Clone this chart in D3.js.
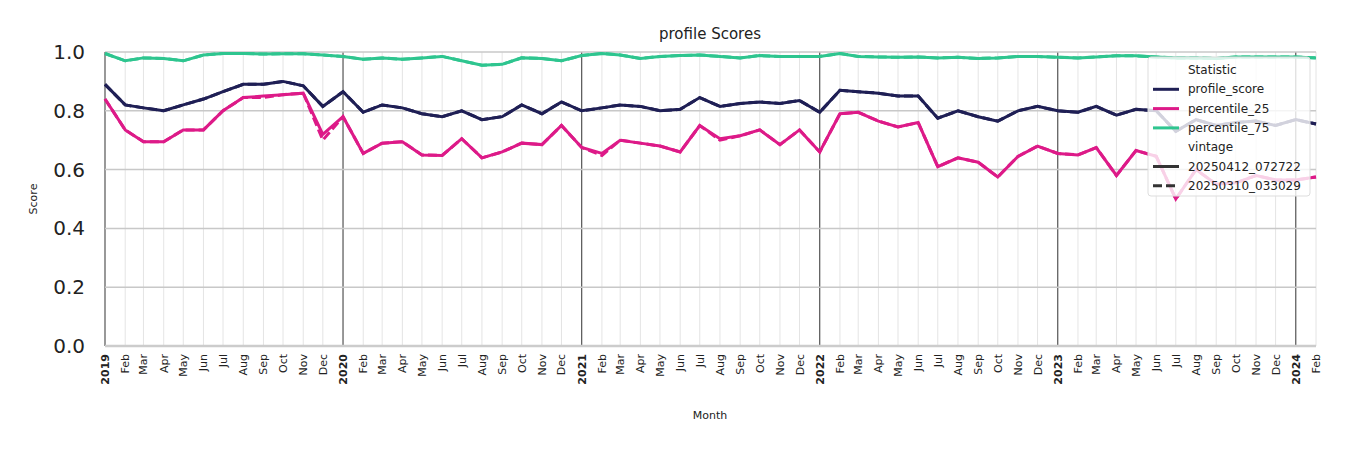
<!DOCTYPE html>
<html><head><meta charset="utf-8">
<script src="https://cdn.jsdelivr.net/npm/d3@7"></script>
<style>body{margin:0;background:#fff}text{font-family:"DejaVu Sans",sans-serif}</style>
</head><body><svg id="c" width="1350" height="450"></svg>
<script>
const startMonth = "2019-01", nMonths = 62;
const monthNames = ["Jan","Feb","Mar","Apr","May","Jun","Jul","Aug","Sep","Oct","Nov","Dec"];
const profileScore = [.89,.82,.81,.80,.82,.84,.865,.89,.89,.90,.885,.815, .865,.795,.82,.81,.79,.78,.80,.77,.78,.82,.79,.83, .80,.81,.82,.815,.80,.805,.845,.815,.825,.83,.825,.835, .795,.87,.865,.86,.85,.85,.775,.80,.78,.765,.80,.815, .80,.795,.815,.785,.805,.80,.73,.77,.75,.76,.765,.75, .77,.755];
const percentile25 = [.84,.735,.695,.695,.735,.735,.80,.845,.85,.855,.86,.72, .78,.655,.69,.695,.65,.648,.705,.64,.66,.69,.685,.75, .675,.655,.70,.69,.68,.66,.75,.705,.715,.735,.685,.735, .66,.79,.795,.765,.745,.76,.61,.64,.625,.575,.645,.68, .655,.65,.675,.58,.665,.645,.50,.60,.55,.555,.58,.565, .565,.575];
const percentile75 = [.995,.97,.98,.978,.97,.99,.995,.995,.993,.994,.994,.99, .985,.975,.98,.975,.98,.985,.97,.955,.958,.98,.978,.97, .988,.995,.99,.978,.985,.988,.99,.985,.98,.988,.985,.985, .985,.995,.985,.983,.982,.983,.98,.982,.978,.98,.985,.985, .982,.98,.983,.987,.987,.983,.98,.98,.978,.983,.983,.983, .983,.98];
const oldProfileScore = profileScore.slice();
const oldPercentile25 = percentile25.map((v,i)=> i===11?.70 : i===8?.845 : i===25?.648 : i===31?.70 : v);
const oldPercentile75 = percentile75.slice();
const yTicks = [0,0.2,0.4,0.6,0.8,1.0];
const statNames = ["profile_score","percentile_25","percentile_75"];
const statColors = ["#1f1f55","#dd1a88","#2ec58f"];
const vintages = ["20250412_072722","20250310_033029"];

const svg = d3.select("#c");
const t0 = d3.timeParse("%Y-%m")(startMonth);
const dates = d3.range(nMonths).map(i=>d3.timeMonth.offset(t0,i)).slice(0,profileScore.length);
const x = d3.scaleTime().domain([dates[0], dates[dates.length-1]]).range([105,1316]);
const y = d3.scaleLinear().domain([0,1]).range([346,52]);
const g = svg.append("g");
// monthly grid
g.selectAll(".mg").data(dates).join("line").attr("x1",d=>x(d)).attr("x2",d=>x(d)).attr("y1",52).attr("y2",346)
 .attr("stroke",d=>d.getMonth()===0?"#444":"#ddd").attr("stroke-width",d=>d.getMonth()===0?1.1:0.8);
g.selectAll(".hg").data(yTicks.slice(1)).join("line").attr("x1",105).attr("x2",1316).attr("y1",d=>y(d)).attr("y2",d=>y(d)).attr("stroke","#c8c8c8").attr("stroke-width",1.5);
g.append("line").attr("x1",105).attr("x2",1316).attr("y1",346).attr("y2",346).attr("stroke","#ccc").attr("stroke-width",2.5);
// y ticks
g.selectAll(".yt").data(yTicks).join("text").attr("x",85).attr("y",d=>y(d)+7).attr("text-anchor","end").attr("font-size",20).attr("fill","#222").text(d=>d.toFixed(1));
// x ticks
g.selectAll(".xt").data(dates).join("text")
 .attr("transform",d=>`translate(${x(d)+4},354) rotate(-90)`).attr("text-anchor","end").attr("font-size",11)
 .attr("font-weight",d=>d.getMonth()===0?"bold":"normal").attr("fill","#222")
 .text(d=>d.getMonth()===0?d.getFullYear():monthNames[d.getMonth()]);
svg.append("text").attr("x",710).attr("y",39).attr("text-anchor","middle").attr("font-size",15).attr("fill","#222").text("profile Scores");
svg.append("text").attr("x",710).attr("y",419).attr("text-anchor","middle").attr("font-size",11).attr("fill","#222").text("Month");
svg.append("text").attr("transform","translate(37,199) rotate(-90)").attr("text-anchor","middle").attr("font-size",11).attr("fill","#222").text("Score");
const line = d3.line().x((d,i)=>x(dates[i])).y(d=>y(d));
const oldSeries=[oldProfileScore,oldPercentile25,oldPercentile75], newSeries=[profileScore,percentile25,percentile75];
oldSeries.forEach((s,i)=>g.append("path").attr("d",line(s)).attr("fill","none").attr("stroke",statColors[i]).attr("stroke-width",3).attr("stroke-dasharray","9,4"));
newSeries.forEach((s,i)=>g.append("path").attr("d",line(s)).attr("fill","none").attr("stroke",statColors[i]).attr("stroke-width",3));
// legend
const L = svg.append("g").attr("transform","translate(1148,57)");
L.append("rect").attr("width",162).attr("height",139).attr("rx",3).attr("fill","#fff").attr("fill-opacity",0.8).attr("stroke","#ddd");
const rows=[{t:"Statistic",h:true},...statNames.map((n,i)=>({t:n,c:statColors[i]})),{t:"vintage",h:true},{t:vintages[0],c:"#333"},{t:vintages[1],c:"#333",dash:true}];
rows.forEach((r,i)=>{const yy=13+i*19.3;
 if(!r.h) L.append("line").attr("x1",5).attr("x2",31).attr("y1",yy).attr("y2",yy).attr("stroke",r.c).attr("stroke-width",3).attr("stroke-dasharray",r.dash?"9,4":null);
 L.append("text").attr("x",r.h?40:40).attr("y",yy+4).attr("font-size",12).attr("fill","#222").text(r.t);});
</script></body></html>
